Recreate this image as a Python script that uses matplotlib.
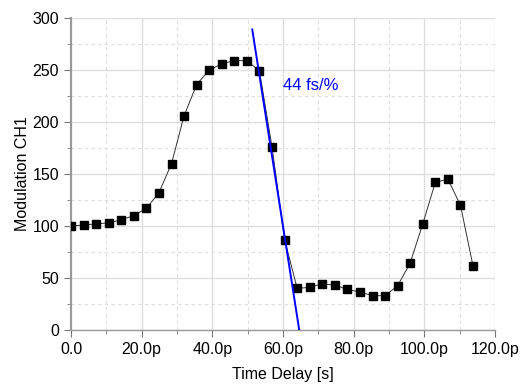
import matplotlib
matplotlib.use("Agg")
import matplotlib.pyplot as plt
from matplotlib.ticker import MultipleLocator, FuncFormatter
import numpy as np

plt.rcParams['font.family'] = ['Liberation Sans', 'DejaVu Sans']

step = 3.556
modulation = [100, 101, 102, 103, 106, 110, 117, 132, 160, 206, 236, 250, 256, 259,
              259, 249, 176, 87, 40, 41, 44.5, 43, 39, 36.5, 33, 33, 42.5, 64.5,
              102, 142, 145, 120, 61.5]
delay = [i * step for i in range(len(modulation))]

fit_x = [51.3, 64.6]
fit_y = [289, 0]
fit_label = "44 fs/%"

fig = plt.figure(figsize=(5.21, 3.85), dpi=100)
ax = fig.add_axes([0.1363, 0.1429, 0.8137, 0.8103])

ax.plot(delay, modulation, color='#333333', lw=0.7, marker='s', ms=5.8,
        mfc='black', mec='black', zorder=3)
ax.plot(fit_x, fit_y, color='#0000ff', lw=1.4, zorder=4)
ax.text(60.1, 235.5, fit_label, color='#0000ff', fontsize=12, va='center', ha='left')

ax.set_xlim(0, 120)
ax.set_ylim(0, 300)
ax.xaxis.set_major_locator(MultipleLocator(20))
ax.xaxis.set_minor_locator(MultipleLocator(10))
ax.yaxis.set_major_locator(MultipleLocator(50))
ax.yaxis.set_minor_locator(MultipleLocator(25))
ax.xaxis.set_major_formatter(FuncFormatter(lambda v, p: "0.0" if abs(v) < 1e-9 else f"{v:.1f}p"))
ax.yaxis.set_major_formatter(FuncFormatter(lambda v, p: f"{int(round(v))}"))

ax.grid(which='major', color='#dddddd', lw=1.0, ls='-')
ax.grid(which='minor', color='#dddddd', lw=0.8, ls=(0, (3, 3)))
ax.set_axisbelow(True)

for s in ['top', 'right']:
    ax.spines[s].set_visible(False)
ax.spines['left'].set_color('#999999')
ax.spines['left'].set_linewidth(1.5)
ax.spines['bottom'].set_color('#999999')
ax.spines['bottom'].set_linewidth(1.0)

ax.tick_params(which='major', length=5, color='#777777', labelsize=11.5, labelcolor='black')
ax.tick_params(which='minor', length=3, color='#777777')

ax.set_xlabel("Time Delay [s]", fontsize=11.5, labelpad=7)
ax.set_ylabel("Modulation CH1", fontsize=11.5, labelpad=2)

fig.savefig("out.png", dpi=100)
